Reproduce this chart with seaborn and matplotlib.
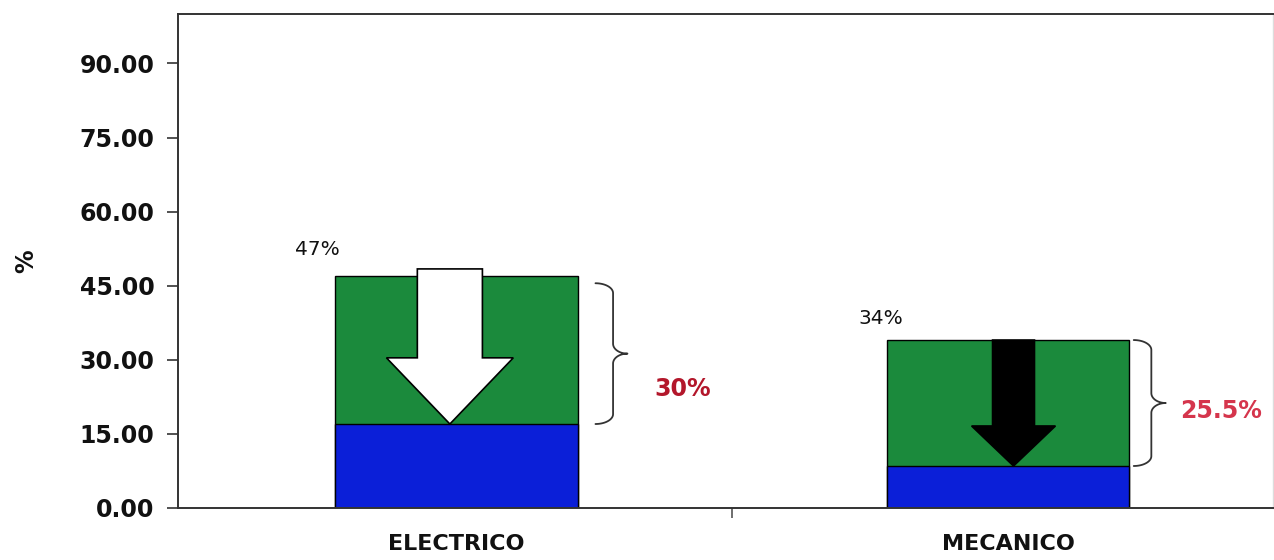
import numpy as np
import pandas as pd
import matplotlib
matplotlib.use("Agg")
import matplotlib.pyplot as plt
import seaborn as sns

# data
categories = ["ELECTRICO", "MECANICO"]
total_pct = [47, 34]          # green bar tops
remaining_pct = [17, 8.5]     # blue part
reduction_labels = ["30%", "25.5%"]
top_labels = ["47%", "34%"]
yticks = [0, 15, 30, 45, 60, 75, 90]

green = "#1b8a3c"
blue = "#0b1fd8"

sns.set_theme(style="white")
plt.rcParams["font.family"] = ["DejaVu Sans"]

df = pd.DataFrame({"cat": categories, "total": total_pct, "rest": remaining_pct})

fig = plt.figure(figsize=(12.74, 5.6), dpi=100)
ax = fig.add_axes([0.1397, 0.0929, 0.8593, 0.882])

sns.barplot(data=df, x="cat", y="total", color=green, saturation=1, width=0.44,
            edgecolor="black", linewidth=1, ax=ax)
sns.barplot(data=df, x="cat", y="rest", color=blue, saturation=1, width=0.44,
            edgecolor="black", linewidth=1, ax=ax)

ax.set_xlim(-0.505, 1.48)
ax.set_ylim(0, 100)
ax.set_yticks(yticks)
ax.set_yticklabels([f"{v:.2f}" for v in yticks], fontsize=17, fontweight="bold")
ax.tick_params(axis="y", direction="out", length=8, width=1.2, color="#333333",
               left=True, pad=9, labelcolor="#111111")
ax.set_xticks([0, 1])
ax.set_xticklabels(categories, fontsize=16, fontweight="bold", color="#111111")
ax.tick_params(axis="x", length=0, pad=19)
ax.set_xticks([0.5], minor=True)
ax.tick_params(axis="x", which="minor", direction="out", length=7, width=1.2,
               color="#555555", bottom=True)
ax.set_xlabel("")
ax.set_ylabel("%", fontsize=17, fontweight="bold", labelpad=30, color="#111111")

for s in ["left", "top", "bottom"]:
    ax.spines[s].set_color("#333333")
    ax.spines[s].set_linewidth(1.4)
ax.spines["right"].set_color("#dddddd")
ax.spines["right"].set_linewidth(1)

# arrows showing the drop
arrow_x = [-0.012, 1.01]
arrow_w = [0.118, 0.076]
arrow_hw = [0.23, 0.152]
arrow_hl = [13.4, 8.1]
arrow_col = ["white", "black"]
arrow_start = [48.4, 34]
for i in range(2):
    ax.arrow(arrow_x[i], arrow_start[i], 0, remaining_pct[i] - arrow_start[i],
             width=arrow_w[i], head_width=arrow_hw[i], head_length=arrow_hl[i],
             length_includes_head=True, facecolor=arrow_col[i],
             edgecolor="black", linewidth=1.2, zorder=5)

# curly braces
def brace(ax, x0, ylo, yhi, w, r=2.0):
    xv = x0 + 0.55 * w
    ym = (ylo + yhi) / 2
    a = xv - x0
    b = x0 + w - xv
    t = np.linspace(np.pi / 2, 0, 20)
    xs = list(x0 + a * np.cos(t)); ys = list(yhi - r + r * np.sin(t))
    t = np.linspace(np.pi, 1.5 * np.pi, 20)
    xs += list(x0 + w + b * np.cos(t)); ys += list(ym + r + r * np.sin(t))
    t = np.linspace(0.5 * np.pi, np.pi, 20)
    xs += list(x0 + w + b * np.cos(t)); ys += list(ym - r + r * np.sin(t))
    t = np.linspace(0, -np.pi / 2, 20)
    xs += list(x0 + a * np.cos(t)); ys += list(ylo + r + r * np.sin(t))
    ax.plot(xs, ys, color="#333333", lw=1.3, solid_capstyle="round")

brace_x = [0.252, 1.228]
brace_top = [45.5, 34]
for i in range(2):
    brace(ax, brace_x[i], remaining_pct[i], brace_top[i], 0.058)

red_cols = ["#b3172b", "#d5354c"]
red_pos = [(0.411, 24), (1.386, 19.6)]
for i in range(2):
    ax.text(red_pos[i][0], red_pos[i][1], reduction_labels[i], color=red_cols[i],
            fontsize=17, fontweight="bold", ha="center", va="center")

top_pos = [(-0.253, 52.4), (0.77, 38.3)]
for i in range(2):
    ax.text(top_pos[i][0], top_pos[i][1], top_labels[i], fontsize=14.5,
            ha="center", va="center", color="#111111")

fig.savefig("out.png", dpi=100)
